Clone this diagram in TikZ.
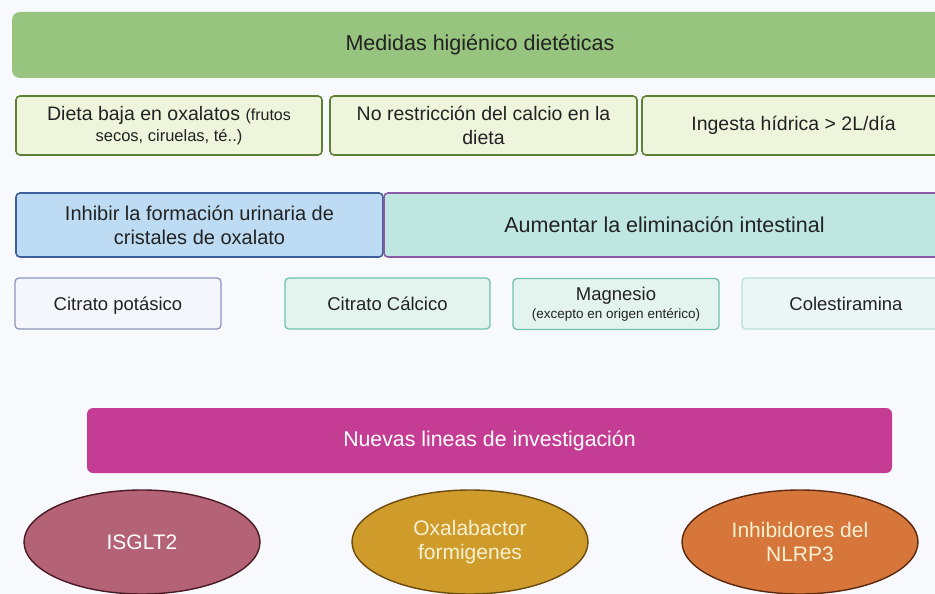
\documentclass[tikz,border=0pt]{standalone}
\usepackage{fontspec}
\setmainfont{Liberation Sans}
\usetikzlibrary{shapes.geometric}
\definecolor{bg}{HTML}{F8F9FC}
\definecolor{txt}{HTML}{222222}
\definecolor{topgreen}{HTML}{97C47F}
\definecolor{lgfill}{HTML}{EEF5DC}
\definecolor{lgdraw}{HTML}{5F7F35}
\definecolor{bluefill}{HTML}{BDDCF3}
\definecolor{bluedraw}{HTML}{3E5F9A}
\definecolor{tealfill}{HTML}{BFE6E0}
\definecolor{purpledraw}{HTML}{8B5AA5}
\definecolor{greyfill}{HTML}{F4F6FB}
\definecolor{greydraw}{HTML}{8E95BD}
\definecolor{mintfill}{HTML}{E3F4EF}
\definecolor{mintdraw}{HTML}{6FC1B0}
\definecolor{palefill}{HTML}{EBF7F4}
\definecolor{paledraw}{HTML}{B6E0D6}
\definecolor{magenta1}{HTML}{C43C93}
\definecolor{ell1}{HTML}{B46275}
\definecolor{ell1d}{HTML}{4A1A25}
\definecolor{ell2}{HTML}{CF9C2C}
\definecolor{ell2d}{HTML}{6B4A10}
\definecolor{ell3}{HTML}{D6763A}
\definecolor{ell3d}{HTML}{5A2A10}
\definecolor{cream}{HTML}{F7F1D2}
\tikzset{
  box/.style={rectangle, rounded corners=4pt, line width=1.6pt, align=center,
    text=txt, inner sep=0pt},
  dietbox/.style={box, fill=lgfill, draw=lgdraw, minimum height=59pt,
    font=\fontsize{19.5}{24}\selectfont},
  rowfour/.style={box, minimum height=51pt, line width=1.3pt,
    font=\fontsize{18.5}{21}\selectfont},
  oneline/.style={text height=14pt, text depth=0pt},
  oval/.style={ellipse, minimum width=236pt, minimum height=104pt, inner sep=0pt,
    line width=1.4pt, align=center, font=\fontsize{21}{24}\selectfont}
}
\begin{document}
\begin{tikzpicture}[x=1pt,y=-1pt]
\useasboundingbox (0,0) rectangle (935,594);
\clip (0,0) rectangle (935,594);
\fill[bg] (0,0) rectangle (935,594);

% top bar
\node[box, fill=topgreen, draw=none, rounded corners=8pt, minimum width=936pt,
  minimum height=66pt, font=\fontsize{21.5}{24}\selectfont] (top) at (480,45)
  {Medidas higiénico dietéticas};

% row 2
\node[dietbox, minimum width=306pt] (diet) at (169,125.5)
  {Dieta baja en oxalatos {\fontsize{16}{18}\selectfont(frutos}\\[-3pt]
   {\fontsize{16.5}{18}\selectfont secos, ciruelas, té..)}};
\node[dietbox, minimum width=307pt] (calc) at (483.5,125.5)
  {No restricción del calcio en la\\dieta};
\node[dietbox, minimum width=303pt] (agua) at (793.5,125.5)
  {Ingesta hídrica > 2L/día};

% row 3
\node[box, fill=bluefill, draw=bluedraw, minimum width=367pt, minimum height=64pt,
  font=\fontsize{20}{23.5}\selectfont] (inhib) at (199.5,225)
  {Inhibir la formación urinaria de\\cristales de oxalato};
\node[box, fill=tealfill, draw=purpledraw, minimum width=561pt, minimum height=64pt,
  font=\fontsize{21.5}{24}\selectfont] (aument) at (664.5,225)
  {Aumentar la eliminación intestinal};

% row 4
\node[rowfour, oneline, fill=greyfill, draw=greydraw, minimum width=206pt] (citk) at (118,303.5)
  {Citrato potásico};
\node[rowfour, oneline, fill=mintfill, draw=mintdraw, minimum width=205pt] (citca) at (387.5,303.5)
  {Citrato Cálcico};
\node[rowfour, fill=mintfill, draw=mintdraw, minimum width=206pt] (mag) at (616,304)
  {Magnesio\\[-3pt]{\fontsize{13.5}{15}\selectfont (excepto en origen entérico)}};
\node[rowfour, oneline, fill=palefill, draw=paledraw, minimum width=208pt] (coles) at (846,303.5)
  {Colestiramina};

% research bar
\node[box, fill=magenta1, draw=none, text=white, rounded corners=6pt,
  minimum width=805pt, minimum height=65pt, font=\fontsize{21.3}{24}\selectfont]
  (nuevas) at (489.5,440.5) {Nuevas lineas de investigación};

% ellipses
\node[oval, fill=ell1, draw=ell1d, text=white] (isglt) at (142,542) {ISGLT2};
\node[oval, fill=ell2, draw=ell2d, text=cream] (oxal) at (470,542)
  {Oxalabactor\\formigenes};
\node[oval, fill=ell3, draw=ell3d, text=cream] (nlrp) at (800,542)
  {Inhibidores del\\NLRP3};
\end{tikzpicture}
\end{document}
